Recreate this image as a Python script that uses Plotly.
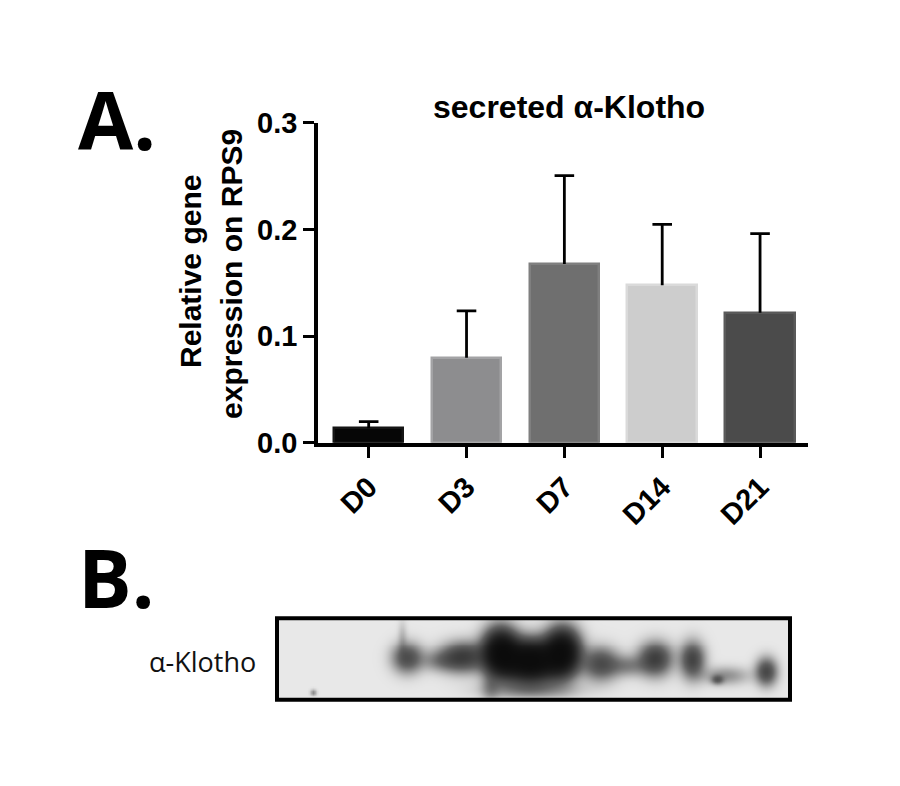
import numpy as np
import plotly.graph_objects as go

# ---------------- data ----------------
days = ["D0", "D3", "D7", "D14", "D21"]
means = [0.0135, 0.0797, 0.1677, 0.1477, 0.1220]
sem_up = [0.0062, 0.0440, 0.0828, 0.0571, 0.0742]
bar_colors = ["#060606", "#8d8d8f", "#6f6f6f", "#cdcdcd", "#4b4b4b"]
bar_edges = ["#151515", "#a3a3a5", "#7f7f7f", "#dadada", "#5a5a5a"]
y_ticks = [0.0, 0.1, 0.2, 0.3]
y_tick_text = ["0.0", "0.1", "0.2", "0.3"]

# western blot bands (blot-local pixel coords: x 0..513, y 0..83)
band_x = [130, 186, 163, 223, 253, 285, 213, 323, 350, 378, 415, 448, 440, 489, 36, 125, 253]
band_y = [40, 39, 43, 34, 43, 34, 70, 46, 48, 41, 42, 58, 62, 54, 75, 20, 72]
band_sx = [10, 15, 13, 11, 18, 11, 6, 12, 13, 11, 8, 16, 4, 7, 2, 3, 30]
band_sy = [10, 10, 7, 15, 13, 15, 10, 11, 7, 11, 12, 6, 3, 9, 2, 12, 6]
band_amp = [0.6, 0.75, 0.25, 2.0, 2.4, 2.0, 0.2, 0.6, 0.28, 0.75, 0.7, 0.25, 0.4, 0.65, 0.3, 0.12, 0.25]

W, H = 900, 786


def py(y):
    """paper y for a target pixel row (compensates the capture's vertical mapping)"""
    return 1 - ((y - 8) / 0.978) / H


fig = go.Figure()

# bars
fig.add_trace(go.Bar(
    x=list(range(len(days))), y=means, width=0.71,
    marker=dict(color=bar_colors, line=dict(color=bar_edges, width=2.5)),
    showlegend=False, hoverinfo="skip",
))

# upper-only error bars
ex, ey = [], []
for i, (v, e) in enumerate(zip(means, sem_up)):
    ex += [i, i, None, i - 0.1, i + 0.1, None]
    ey += [v, v + e, None, v + e, v + e, None]
fig.add_trace(go.Scatter(x=ex, y=ey, mode="lines",
                         line=dict(color="black", width=2.8),
                         showlegend=False, hoverinfo="skip"))

# blot heatmap
gx = np.arange(0, 514, 2)
gy = np.arange(0, 84, 2)
GX, GY = np.meshgrid(gx, gy)
dens = np.zeros_like(GX, dtype=float)
for bx, by, sx, sy, a in zip(band_x, band_y, band_sx, band_sy, band_amp):
    dens += a * np.exp(-0.5 * (((GX - bx) / sx) ** 2 + ((GY - by) / sy) ** 2))
z = 1 - np.exp(-1.6 * dens)
fig.add_trace(go.Heatmap(
    x=gx, y=gy, z=z, zmin=0, zmax=1, zsmooth="best",
    colorscale=[[0, "rgb(232,232,232)"], [0.5, "rgb(100,100,100)"], [1, "rgb(8,8,8)"]],
    showscale=False, xaxis="x2", yaxis="y2", hoverinfo="skip",
))

bold = dict(family="Liberation Sans, Arial, sans-serif", color="black", weight="bold")

fig.update_layout(
    width=W, height=H,
    margin=dict(l=0, r=0, t=0, b=0),
    paper_bgcolor="white", plot_bgcolor="white",
    bargap=0,
    xaxis=dict(
        domain=[318 / W, 808 / W], range=[-0.518, 4.49],
        tickvals=list(range(len(days))), ticktext=days,
        tickangle=-45, tickfont=dict(size=29, **bold),
        showline=True, linewidth=3.5, linecolor="black",
        ticks="outside", ticklen=12, tickwidth=3, tickcolor="black",
        showgrid=False, zeroline=False, fixedrange=True,
    ),
    yaxis=dict(
        domain=[py(443), py(117)], range=[0, 0.3],
        tickvals=y_ticks, ticktext=y_tick_text,
        tickfont=dict(size=29, **bold),
        showline=True, linewidth=3.5, linecolor="black",
        ticks="outside", ticklen=11, tickwidth=3, tickcolor="black",
        showgrid=False, zeroline=False, fixedrange=True,
    ),
    xaxis2=dict(domain=[277 / W, 790 / W], range=[0, 513], anchor="y2",
                visible=False, fixedrange=True),
    yaxis2=dict(domain=[py(705), py(622)], range=[83, 0], anchor="x2",
                visible=False, fixedrange=True),
    shapes=[dict(type="rect", xref="paper", yref="paper",
                 x0=277 / W, x1=790 / W, y0=py(705), y1=py(622),
                 line=dict(color="black", width=4))],
    annotations=[
        dict(text="secreted α-Klotho", x=569 / W, y=py(101), xref="paper", yref="paper",
             showarrow=False, xanchor="center", yanchor="middle", font=dict(size=32, **bold)),
        dict(text="Relative gene", x=190 / W, y=py(269), xref="paper", yref="paper",
             showarrow=False, textangle=-90, xanchor="center", yanchor="middle",
             font=dict(size=30, **bold)),
        dict(text="expression on RPS9", x=232 / W, y=py(271), xref="paper", yref="paper",
             showarrow=False, textangle=-90, xanchor="center", yanchor="middle",
             font=dict(size=30, **bold)),
        dict(text="A.", x=76 / W, y=py(113), xref="paper", yref="paper",
             showarrow=False, xanchor="left", yanchor="middle",
             font=dict(size=80, family="Open Sans, sans-serif", color="black", weight="bold")),
        dict(text="B.", x=76 / W, y=py(579), xref="paper", yref="paper",
             showarrow=False, xanchor="left", yanchor="middle",
             font=dict(size=80, family="Open Sans, sans-serif", color="black", weight="bold")),
        dict(text="α-Klotho", x=202 / W, y=py(666), xref="paper", yref="paper",
             showarrow=False, xanchor="center", yanchor="middle",
             font=dict(size=27, family="Open Sans, sans-serif", color="#111111")),
    ],
)

fig.write_html("out.html", post_script="document.body.style.margin='0';",
               config={"displayModeBar": False})
